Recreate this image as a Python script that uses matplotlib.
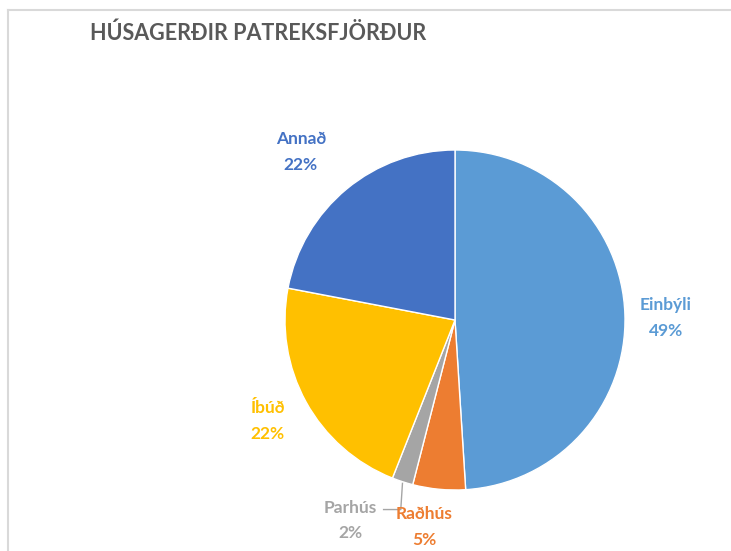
import matplotlib
matplotlib.use("Agg")
import matplotlib.pyplot as plt
from matplotlib.lines import Line2D
import numpy as np

# Data
categories = ["Einbýli", "Raðhús", "Parhús", "Íbúð", "Annað"]
shares = [49, 5, 2, 22, 22]
colors = ["#5B9BD5", "#ED7D31", "#A5A5A5", "#FFC000", "#4472C4"]

# label positions (distance, angle offset in degrees from slice middle)
label_pos = [(1.24, -1.2), (1.23, -3.0), (1.33, -9.5), (1.25, -0.5), (1.34, 3.0)]

plt.rcParams['font.family'] = ['Lato', 'DejaVu Sans']

fig = plt.figure(figsize=(7.31, 5.51), dpi=100)

# frame lines (top and left)
fig.add_artist(Line2D([8 / 731, 8 / 731], [0, 1 - 10 / 551], color="#D9D9D9", lw=1.5))
fig.add_artist(Line2D([8 / 731, 1], [1 - 10 / 551, 1 - 10 / 551], color="#D9D9D9", lw=1.5))

fig.text(90 / 731, 1 - 33 / 551, "HÚSAGERÐIR PATREKSFJÖRÐUR", fontsize=15.5,
         fontweight="bold", color="#595959", va="center", ha="left")

R = 170 * 1.02
ax = fig.add_axes([(455 - R) / 731, (551 - 320 - R) / 551, 2 * R / 731, 2 * R / 551])
wedges, _ = ax.pie(shares, colors=colors, startangle=90, counterclock=False,
                   wedgeprops=dict(edgecolor="white", linewidth=1))
ax.set_xlim(-1.02, 1.02)
ax.set_ylim(-1.02, 1.02)
ax.set_aspect("equal")

for w, cat, val, col, (dist, off) in zip(wedges, categories, shares, colors, label_pos):
    mid = np.deg2rad((w.theta1 + w.theta2) / 2 + off)
    x, y = dist * np.cos(mid), dist * np.sin(mid)
    ax.text(x, y, f"{cat}\n{val}%", ha="center", va="center", fontsize=12.5,
            fontweight="bold", color=col, linespacing=1.75, clip_on=False)

# leader line for Parhús
w = wedges[2]
mid = np.deg2rad((w.theta1 + w.theta2) / 2)
x0, y0 = 1.0 * np.cos(mid), 1.0 * np.sin(mid)
ax.plot([x0, x0 - 0.01, -0.42], [y0 - 0.01, -1.115, -1.115], color="#A5A5A5",
        lw=1, clip_on=False)

fig.savefig("out.png", dpi=100)
